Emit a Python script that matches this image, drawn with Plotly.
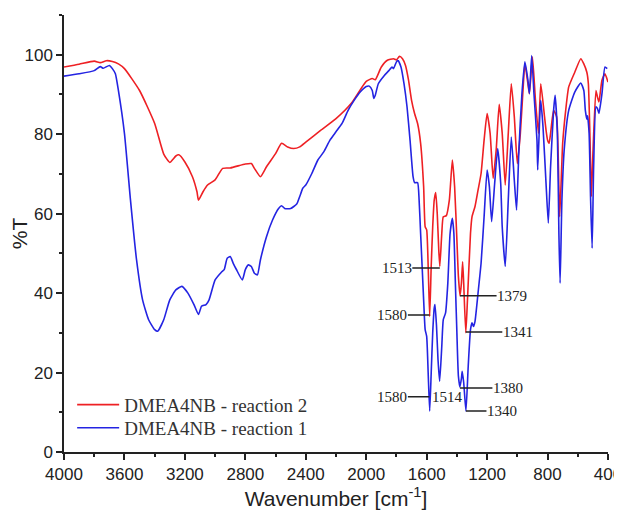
import plotly.graph_objects as go

# Reaction 2 (red)
wn_r2 = [4000, 3900, 3800, 3760, 3720, 3680, 3640, 3600, 3500, 3400, 3340, 3300, 3260, 3240, 3200, 3150, 3120, 3110,
         3080, 3050, 3000, 2950, 2900, 2800, 2760, 2740, 2700, 2660, 2600, 2560, 2520, 2480, 2440, 2400, 2300, 2200,
         2100, 2000, 1960, 1940, 1900, 1860, 1820, 1800, 1780, 1760, 1740, 1720, 1700, 1680, 1660, 1640, 1620, 1610,
         1600, 1590, 1580, 1570, 1560, 1550, 1540, 1530, 1520, 1513, 1500, 1490, 1470, 1450, 1430, 1415, 1400, 1390,
         1379, 1370, 1362, 1355, 1341, 1330, 1310, 1300, 1280, 1260, 1240, 1220, 1200, 1180, 1160, 1140, 1120, 1100,
         1080, 1060, 1040, 1020, 1000, 980, 960, 950, 930, 920, 900, 880, 860, 845, 820, 810, 800, 790, 780, 760,
         740, 720, 700, 680, 660, 620, 580, 560, 540, 530, 520, 510, 500, 480, 470, 460, 440, 420, 400]
t_r2 = [96.9, 97.6, 98.4, 98.0, 98.5, 98.3, 97.7, 96.5, 91.0, 82.7, 75.0, 72.9, 74.5, 74.8, 73.0, 69.3, 65.5, 63.4,
        65.5, 67.2, 68.5, 71.4, 71.5, 72.5, 72.6, 71.4, 69.3, 71.8, 75.1, 77.7, 76.8, 76.4, 76.8, 78.0, 81.0, 83.9,
        87.7, 93.3, 94.0, 93.7, 96.9, 98.6, 99.0, 98.7, 99.6, 99.0, 97.3, 93.6, 88.5, 85.2, 82.7, 77.7, 66.8, 56.7,
        55.9, 46.7, 34.1, 46.7, 56.7, 63.4, 65.3, 60.0, 50.9, 46.7, 55.0, 59.2, 59.5, 63.4, 73.5, 66.8, 53.4, 44.2,
        39.3, 42.5, 47.9, 42.5, 30.0, 38.3, 55.0, 59.2, 61.8, 65.9, 70.1, 78.5, 85.2, 80.2, 68.9, 76.0, 87.5, 80.2,
        67.2, 80.2, 92.7, 84.4, 72.6, 80.2, 92.7, 97.7, 92.7, 90.2, 99.4, 88.5, 80.2, 92.7, 84.4, 81.0, 78.5, 77.7,
        80.2, 86.0, 84.4, 59.2, 77.7, 86.0, 91.9, 95.6, 99.0, 97.7, 95.6, 92.7, 80.2, 64.3, 75.0, 91.0, 89.4, 88.1,
        93.6, 95.2, 93.1]

# Reaction 1 (blue)
wn_r1 = [4000, 3900, 3800, 3760, 3740, 3700, 3680, 3660, 3640, 3600, 3560, 3520, 3480, 3440, 3400, 3380, 3340, 3300,
         3260, 3220, 3180, 3140, 3110, 3090, 3060, 3040, 3000, 2960, 2940, 2920, 2900, 2880, 2860, 2820, 2800, 2780,
         2760, 2740, 2720, 2700, 2660, 2620, 2580, 2560, 2540, 2500, 2460, 2440, 2420, 2400, 2360, 2320, 2280, 2240,
         2200, 2160, 2120, 2080, 2040, 2000, 1980, 1960, 1950, 1940, 1920, 1880, 1850, 1830, 1820, 1800, 1790, 1770,
         1750, 1730, 1710, 1690, 1680, 1660, 1650, 1640, 1630, 1620, 1610, 1600, 1590, 1580, 1570, 1560, 1550, 1545,
         1535, 1525, 1514, 1500, 1490, 1475, 1460, 1445, 1430, 1420, 1410, 1400, 1390, 1380, 1370, 1365, 1355, 1340,
         1325, 1310, 1300, 1290, 1280, 1260, 1240, 1220, 1200, 1185, 1170, 1150, 1130, 1110, 1100, 1080, 1060, 1040,
         1020, 1005, 990, 970, 950, 930, 920, 905, 890, 870, 865, 850, 845, 830, 810, 795, 780, 760, 750, 735, 725,
         717, 705, 690, 660, 620, 580, 560, 550, 540, 535, 525, 515, 505, 495, 480, 470, 460, 440, 420, 405]
t_r1 = [94.6, 95.2, 96.0, 97.0, 96.6, 97.3, 96.5, 95.2, 91.0, 80.2, 63.4, 48.4, 38.3, 33.3, 30.8, 30.4, 33.3, 38.3,
        40.8, 41.7, 40.0, 37.1, 34.6, 36.7, 37.1, 38.3, 43.3, 45.2, 45.9, 48.8, 49.2, 47.5, 46.0, 43.3, 45.9, 47.1,
        46.7, 45.0, 44.6, 48.4, 54.2, 58.4, 61.3, 62.0, 61.3, 61.3, 62.4, 64.3, 66.4, 67.2, 70.1, 73.5, 75.6, 78.5,
        80.6, 82.7, 86.0, 88.5, 90.6, 92.0, 92.1, 91.0, 89.0, 89.8, 92.7, 94.8, 96.0, 96.9, 96.5, 98.2, 98.6, 96.9,
        92.7, 86.9, 78.5, 69.3, 67.8, 67.8, 63.4, 55.0, 46.7, 38.3, 30.8, 29.1, 19.9, 10.3, 19.9, 30.0, 36.2, 37.1,
        31.8, 23.3, 17.8, 26.6, 33.3, 35.0, 42.5, 55.0, 58.8, 55.0, 42.5, 30.0, 19.1, 16.4, 18.5, 20.3, 17.5, 10.3,
        21.6, 30.8, 32.5, 31.6, 32.9, 40.0, 47.5, 59.2, 71.0, 66.8, 58.0, 67.6, 76.4, 67.6, 56.7, 46.7, 63.4, 79.3,
        68.4, 60.9, 75.6, 90.0, 98.2, 93.6, 90.2, 99.8, 90.2, 78.5, 71.0, 86.0, 88.5, 81.8, 67.6, 57.6, 71.8, 86.0,
        89.8, 80.2, 55.0, 42.5, 63.4, 76.0, 86.0, 90.6, 92.9, 91.0, 86.0, 83.8, 84.6, 80.2, 63.4, 51.3, 71.8, 86.9,
        86.5, 85.2, 90.2, 96.9, 96.5]

# Peak labels: text, wavenumber, %T, horizontal text offset (px)
peak_text = ["1513", "1580", "1379", "1341", "1380", "1340", "1580"]
peak_wn = [1513, 1582, 1379, 1341, 1380, 1340, 1582]
peak_t = [46.3, 34.5, 39.3, 30.2, 16.1, 10.3, 13.9]
peak_dx = [-43, -37, 52, 52, 48, 36, -37]
extra_text = "1514"
extra_wn = 1462
extra_t = 13.9

x_ticks = [4000, 3600, 3200, 2800, 2400, 2000, 1600, 1200, 800, 400]
y_ticks = [0, 20, 40, 60, 80, 100]

RED = "rgb(238,32,36)"
BLUE = "rgb(36,36,226)"

fig = go.Figure()
fig.add_trace(go.Scatter(x=wn_r2, y=t_r2, mode="lines", name="DMEA4NB - reaction 2", legend="legend",
                         line=dict(color=RED, width=1.6, shape="spline", smoothing=0.5)))
fig.add_trace(go.Scatter(x=wn_r1, y=t_r1, mode="lines", name="DMEA4NB - reaction 1", legend="legend2",
                         line=dict(color=BLUE, width=1.6, shape="spline", smoothing=0.5)))

annos = []
for txt, xw, yt, dx in zip(peak_text, peak_wn, peak_t, peak_dx):
    annos.append(dict(x=xw, y=yt, xref="x", yref="y", text=txt, showarrow=True,
                      arrowhead=0, arrowwidth=1.5, arrowcolor="#222", ax=dx, ay=0,
                      standoff=0, borderpad=0,
                      font=dict(family="Liberation Serif", size=15, color="#222")))
annos.append(dict(x=extra_wn, y=extra_t, xref="x", yref="y", text=extra_text, showarrow=False,
                  font=dict(family="Liberation Serif", size=15, color="#222")))

axis_common = dict(showline=True, linecolor="#222", linewidth=1.5, mirror=False,
                   ticks="outside", ticklen=6, tickwidth=1.5, tickcolor="#222",
                   showgrid=False, zeroline=False, automargin=False,
                   ticklabeloverflow="allow",
                   tickfont=dict(family="Liberation Sans", size=17, color="#222"))

legend_common = dict(xanchor="left", yanchor="middle", bgcolor="rgba(0,0,0,0)", borderwidth=0,
                     font=dict(family="Liberation Serif", size=19, color="#333"), itemwidth=42)

# page body has an 8px default margin; the figure is sized to fit the window
fig.update_layout(
    width=614, height=509,
    margin=dict(l=56, r=14, t=7, b=65),
    paper_bgcolor="white", plot_bgcolor="white",
    annotations=annos,
    showlegend=True,
    legend=dict(x=0.015, y=0.108, **legend_common),
    legend2=dict(x=0.015, y=0.055, **legend_common),
    xaxis=dict(range=[4000, 400], tickvals=x_ticks,
               minor=dict(dtick=200, ticklen=3, tickwidth=1.5, tickcolor="#222", ticks="outside"),
               title=dict(text="Wavenumber [cm<sup>-1</sup>]", standoff=6,
                          font=dict(family="Liberation Sans", size=21, color="#222")),
               **axis_common),
    yaxis=dict(range=[0, 110], tickvals=y_ticks,
               minor=dict(dtick=10, ticklen=3, tickwidth=1.5, tickcolor="#222", ticks="outside"),
               title=dict(text="%T", standoff=16,
                          font=dict(family="Liberation Sans", size=21, color="#222")),
               **axis_common),
)

fig.write_html("out.html")
